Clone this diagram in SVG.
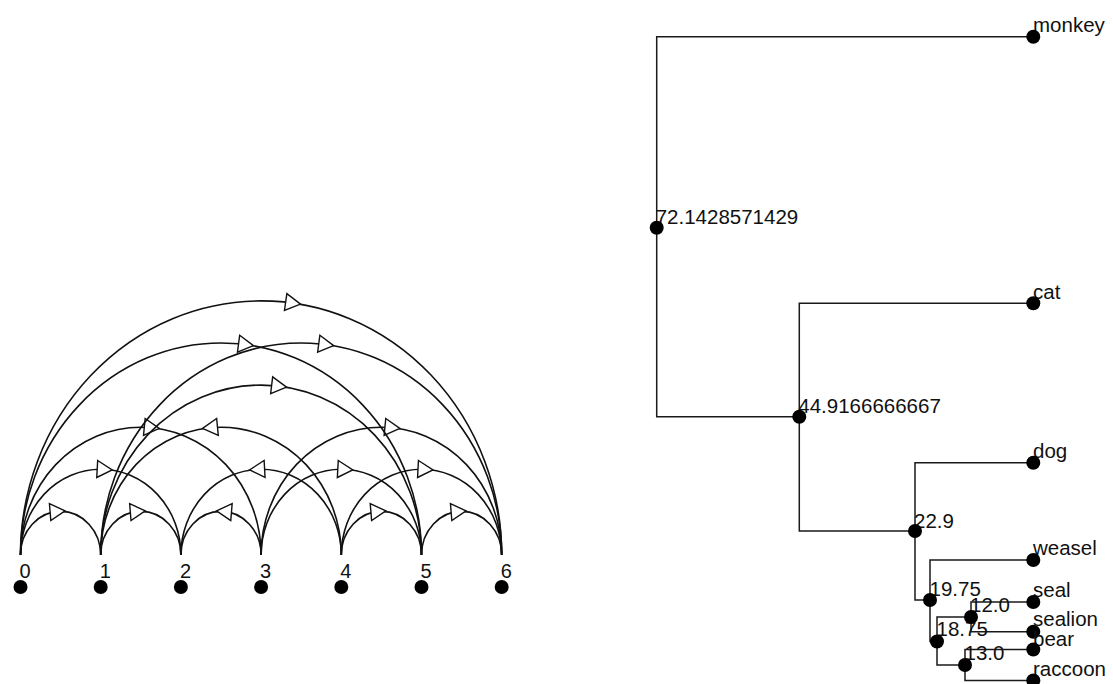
<svg xmlns="http://www.w3.org/2000/svg" xmlns:xlink="http://www.w3.org/1999/xlink" width="1113" height="684" viewBox="0 0 1113 684">
<style>
.arc{fill:none;stroke:#111;stroke-width:1.6}
.tri{fill:#fff;stroke:#111;stroke-width:1.4;stroke-linejoin:miter}
.dot{fill:#000}
.lbl{font-family:"Liberation Sans",Arial,Helvetica,sans-serif;font-size:20px;fill:#111}
.tl{font-family:"Liberation Sans",Arial,Helvetica,sans-serif;font-size:20.5px;fill:#111}
.br{fill:none;stroke:#1a1a1a;stroke-width:1.5}
</style>
<defs>
<polygon id="tri" class="tri" points="-7.5,-8.5 7.5,0 -7.5,8.5"/>
</defs>
<rect x="0" y="0" width="1113" height="684" fill="#fff"/>

<!-- Arc diagram connectors -->
<g id="arc-edges">
<path class="arc" d="M20.5,555 A40.1,43.605 0 0 1 100.7,555"/>
<use xlink:href="#tri" href="#tri" transform="translate(57.6,511.5) rotate(-4.66)"/>
<path class="arc" d="M100.7,555 A40.1,43.605 0 0 1 180.9,555"/>
<use xlink:href="#tri" href="#tri" transform="translate(137.8,511.5) rotate(-4.66)"/>
<path class="arc" d="M180.9,555 A40.1,43.605 0 0 1 261.1,555"/>
<use xlink:href="#tri" href="#tri" transform="translate(224,511.5) rotate(184.66)"/>
<path class="arc" d="M341.3,555 A40.1,43.605 0 0 1 421.5,555"/>
<use xlink:href="#tri" href="#tri" transform="translate(378.4,511.5) rotate(-4.66)"/>
<path class="arc" d="M421.5,555 A40.1,43.605 0 0 1 501.7,555"/>
<use xlink:href="#tri" href="#tri" transform="translate(458.6,511.5) rotate(-4.66)"/>

<path class="arc" d="M20.5,555 A80.2,85.71 0 0 1 180.9,555"/>
<use xlink:href="#tri" href="#tri" transform="translate(104.7,469.4) rotate(3.06)"/>
<path class="arc" d="M180.9,555 A80.2,85.71 0 0 1 341.3,555"/>
<use xlink:href="#tri" href="#tri" transform="translate(257.1,469.4) rotate(176.94)"/>
<path class="arc" d="M261.1,555 A80.2,85.71 0 0 1 421.5,555"/>
<use xlink:href="#tri" href="#tri" transform="translate(345.3,469.4) rotate(3.06)"/>
<path class="arc" d="M341.3,555 A80.2,85.71 0 0 1 501.7,555"/>
<use xlink:href="#tri" href="#tri" transform="translate(425.5,469.4) rotate(3.06)"/>

<path class="arc" d="M20.5,555 A120.3,127.815 0 0 1 261.1,555"/>
<use xlink:href="#tri" href="#tri" transform="translate(151.8,427.7) rotate(5.57)"/>
<path class="arc" d="M100.7,555 A120.3,127.815 0 0 1 341.3,555"/>
<use xlink:href="#tri" href="#tri" transform="translate(210,427.7) rotate(174.43)"/>
<path class="arc" d="M261.1,555 A120.3,127.815 0 0 1 501.7,555"/>
<use xlink:href="#tri" href="#tri" transform="translate(392.4,427.7) rotate(5.57)"/>

<path class="arc" d="M100.7,555 A160.4,169.92 0 0 1 421.5,555"/>
<use xlink:href="#tri" href="#tri" transform="translate(279.1,386.2) rotate(6.82)"/>

<path class="arc" d="M20.5,555 A200.5,212.025 0 0 1 421.5,555"/>
<use xlink:href="#tri" href="#tri" transform="translate(246,344.6) rotate(7.57)"/>
<path class="arc" d="M100.7,555 A200.5,212.025 0 0 1 501.7,555"/>
<use xlink:href="#tri" href="#tri" transform="translate(326.2,344.6) rotate(7.57)"/>

<path class="arc" d="M20.5,555 A240.6,254.13 0 0 1 501.7,555"/>
<use xlink:href="#tri" href="#tri" transform="translate(293.1,303.1) rotate(8.07)"/>
</g>

<!-- Arc diagram nodes -->
<g id="n0"><text class="lbl" x="19.5" y="578">0</text><circle class="dot" cx="20.5" cy="587" r="7"/></g>
<g id="n1"><text class="lbl" x="99.7" y="578">1</text><circle class="dot" cx="100.7" cy="587" r="7"/></g>
<g id="n2"><text class="lbl" x="179.9" y="578">2</text><circle class="dot" cx="180.9" cy="587" r="7"/></g>
<g id="n3"><text class="lbl" x="260.1" y="578">3</text><circle class="dot" cx="261.1" cy="587" r="7"/></g>
<g id="n4"><text class="lbl" x="340.3" y="578">4</text><circle class="dot" cx="341.3" cy="587" r="7"/></g>
<g id="n5"><text class="lbl" x="420.5" y="578">5</text><circle class="dot" cx="421.5" cy="587" r="7"/></g>
<g id="n6"><text class="lbl" x="500.7" y="578">6</text><circle class="dot" cx="501.7" cy="587" r="7"/></g>

<!-- Dendrogram connectors -->
<g id="tree-edges">
<path class="br" d="M656.7,227.7 V36.7 H1033.3"/>
<path class="br" d="M656.7,227.7 V416.7 H799.3"/>
<path class="br" d="M799.3,416.7 V303.3 H1033.3"/>
<path class="br" d="M799.3,416.7 V531 H915"/>
<path class="br" d="M915,531 V462.7 H1033.3"/>
<path class="br" d="M915,531 V600 H930"/>
<path class="br" d="M930,600 V560 H1033.3"/>
<path class="br" d="M930,600 V641.5 H937"/>
<path class="br" d="M937,641.5 V617 H971"/>
<path class="br" d="M937,641.5 V665 H965"/>
<path class="br" d="M971,617 V602 H1033.3"/>
<path class="br" d="M971,617 V631.7 H1033.3"/>
<path class="br" d="M965,665 V649.5 H1033.3"/>
<path class="br" d="M965,665 V680.5 H1033.3"/>
</g>

<!-- Dendrogram nodes -->
<g id="t-root"><text class="tl" x="655.7" y="223.5">72.1428571429</text><circle class="dot" cx="656.7" cy="227.7" r="7"/></g>
<g id="t-4491"><text class="tl" x="798.3" y="413">44.9166666667</text><circle class="dot" cx="799.3" cy="416.7" r="7"/></g>
<g id="t-229"><text class="tl" x="914" y="528">22.9</text><circle class="dot" cx="915" cy="531" r="7"/></g>
<g id="t-1975"><text class="tl" x="929.5" y="595.5">19.75</text><circle class="dot" cx="930" cy="600" r="7"/></g>
<g id="t-1875"><text class="tl" x="936.5" y="635.5">18.75</text><circle class="dot" cx="937" cy="641.5" r="7"/></g>
<g id="t-120"><text class="tl" x="970" y="612">12.0</text><circle class="dot" cx="971" cy="617" r="7"/></g>
<g id="t-130"><text class="tl" x="964.5" y="660">13.0</text><circle class="dot" cx="965" cy="665" r="7"/></g>
<g id="t-monkey"><text class="tl" x="1033" y="31.5">monkey</text><circle class="dot" cx="1033.3" cy="36.7" r="7"/></g>
<g id="t-cat"><text class="tl" x="1033" y="298.5">cat</text><circle class="dot" cx="1033.3" cy="303.3" r="7"/></g>
<g id="t-dog"><text class="tl" x="1033" y="458">dog</text><circle class="dot" cx="1033.3" cy="462.7" r="7"/></g>
<g id="t-weasel"><text class="tl" x="1033" y="555">weasel</text><circle class="dot" cx="1033.3" cy="560" r="7"/></g>
<g id="t-seal"><text class="tl" x="1033" y="597">seal</text><circle class="dot" cx="1033.3" cy="602" r="7"/></g>
<g id="t-sealion"><text class="tl" x="1033" y="626">sealion</text><circle class="dot" cx="1033.3" cy="631.7" r="7"/></g>
<g id="t-bear"><text class="tl" x="1033" y="645.5">bear</text><circle class="dot" cx="1033.3" cy="649.5" r="7"/></g>
<g id="t-raccoon"><text class="tl" x="1033" y="675.5">raccoon</text><circle class="dot" cx="1033.3" cy="680.5" r="7"/></g>
</svg>
